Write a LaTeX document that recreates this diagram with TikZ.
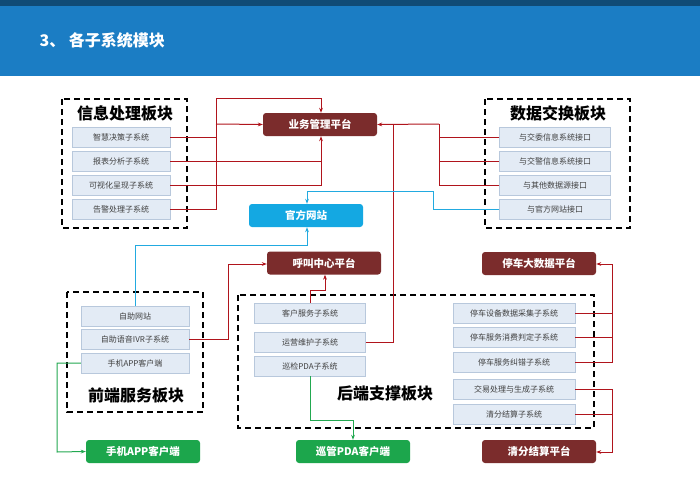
\documentclass[tikz,border=0pt]{standalone}
\usepackage{fontspec}
\setmainfont{Noto Sans CJK SC}
\usetikzlibrary{arrows.meta}
\definecolor{hdr}{HTML}{1B7DC4}
\definecolor{plat}{HTML}{7B2C2C}
\definecolor{cyanb}{HTML}{14A8E2}
\definecolor{grn}{HTML}{1CA64C}
\definecolor{sub}{HTML}{E3EBF5}
\definecolor{subl}{HTML}{B8C8DC}
\definecolor{rl}{HTML}{B0141C}
\definecolor{bl}{HTML}{22AAE0}
\definecolor{gl}{HTML}{22A850}
\begin{document}
\begin{tikzpicture}[x=1pt,y=-1pt,
 subbox/.style={draw=subl,fill=sub,minimum height=20pt,inner sep=0pt,font=\fontsize{8}{9}\selectfont,text=black!75},
 platbox/.style={rounded corners=3pt,minimum height=23pt,minimum width=114pt,inner sep=0pt,font=\bfseries\fontsize{10.5}{12}\selectfont,text=white},
 blk/.style={draw,dashed,line width=1.6pt,dash pattern=on 6pt off 4pt},
 blktitle/.style={font=\bfseries\fontsize{16}{18}\selectfont},
 rar/.style={draw=rl,line width=1pt,-{Stealth[length=5pt]}},
 rln/.style={draw=rl,line width=1pt},
 bar/.style={draw=bl,line width=1pt,-{Stealth[length=5pt]}},
 gar/.style={draw=gl,line width=1pt,-{Stealth[length=5pt]}}]
\useasboundingbox (0,0) rectangle (700,500);
\fill[white] (0,0) rectangle (700,500);
\fill[hdr] (0,0) rectangle (700,76);
\fill[hdr!60!black] (0,0) rectangle (700,6);
\node[text=white,font=\bfseries\fontsize{16}{18}\selectfont,anchor=west] (title) at (36,40) {3、 各子系统模块};
% blocks
\draw[blk] (62,99) rectangle (187,228);
\node[blktitle] (t1) at (125,113) {信息处理板块};
\draw[blk] (485,99) rectangle (630,228);
\node[blktitle] (t2) at (558,113) {数据交换板块};
\draw[blk] (67,292) rectangle (203,412);
\node[blktitle] (t3) at (136,395) {前端服务板块};
\draw[blk] (238,295) rectangle (594,428);
\node[blktitle] (t4) at (385,393) {后端支撑板块};
% subs left
\foreach \n/\y/\t in {a1/137/智慧决策子系统,a2/161/报表分析子系统,a3/185/可视化呈现子系统,a4/209/告警处理子系统}
  \node[subbox,minimum width=98pt] (\n) at (121,\y) {\t};
\foreach \n/\y/\t in {b1/137/与交委信息系统接口,b2/161/与交警信息系统接口,b3/185/与其他数据源接口,b4/209/与官方网站接口}
  \node[subbox,minimum width=111pt] (\n) at (555,\y) {\t};
\foreach \n/\y/\t in {c1/316/自助网站,c2/339/自助语音IVR子系统,c3/363/手机APP客户端}
  \node[subbox,minimum width=108pt] (\n) at (135,\y) {\t};
\foreach \n/\y/\t in {d1/313/客户服务子系统,d2/342/运营维护子系统,d3/366/巡检PDA子系统}
  \node[subbox,minimum width=111pt] (\n) at (310,\y) {\t};
\foreach \n/\y/\t in {e1/313/停车设备数据采集子系统,e2/337/停车服务消费判定子系统,e3/362/停车服务纠错子系统,e4/389/交易处理与生成子系统,e5/414/清分结算子系统}
  \node[subbox,minimum width=122pt] (\n) at (514,\y) {\t};
% platforms
\node[platbox,fill=plat] (p1) at (320,124.5) {业务管理平台};
\node[platbox,fill=cyanb] (p2) at (306,215.5) {官方网站};
\node[platbox,fill=plat] (p3) at (324,263) {呼叫中心平台};
\node[platbox,fill=plat] (p4) at (539,263.5) {停车大数据平台};
\node[platbox,fill=plat] (p5) at (539,451.5) {清分结算平台};
\node[platbox,fill=grn] (p6) at (143,451.5) {手机APP客户端};
\node[platbox,fill=grn] (p7) at (353,451.5) {巡管PDA客户端};
% red left
\coordinate (lv) at (216,99);
\draw[rln] (a1.east) -- (216,137);
\draw[rln] (a4.east) -- (216,209) -- (216,99);
\draw[rar] (216,99) -- (321,99) -- (p1.north -| 321,0);
\draw[rar] (216,124) -- (p1.west);
\draw[rln] (a2.east) -- (321,161);
\draw[rar] (a3.east) -- (321,185) -- (p1.south -| 321,0);
% red right
\draw[rln] (b1.west) -- (439,137);
\draw[rln] (b2.west) -- (439,161);
\draw[rln] (b3.west) -- (439,185) -- (439,124);
\draw[rar] (439,124) -- (p1.east);
\draw[rln] (d2.east) -- (393,342) -- (393,124);
% cyan
\draw[bar] (b4.west) -- (433,209) -- (433,191) -- (307,191) -- (p2.north -| 307,0);
\draw[bar] (c1.north) -- (135,245) -- (307,245) -- (p2.south -| 307,0);
% call center
\draw[rar] (c2.east) -- (228,339) -- (228,264) -- (p3.west |- 0,264);
\draw[rar] (d1.north) -- (310,290) -- (325,290) -- (p3.south -| 325,0);
% green
\draw[gar] (c3.west) -- (57,363) -- (57,452) -- (p6.west);
\draw[gar] (d3.south) -- (310,420) -- (353,420) -- (p7.north);
% right red
\draw[rln] (e1.east) -- (612,313);
\draw[rln] (e2.east) -- (612,337);
\draw[rln] (e3.east) -- (612,362) -- (612,264);
\draw[rar] (612,264) -- (p4.east |- 0,264);
\draw[rln] (e4.east) -- (612,389);
\draw[rln] (e5.east) -- (612,414);
\draw[rar] (612,389) -- (612,452) -- (p5.east |- 0,452);
\end{tikzpicture}
\end{document}
